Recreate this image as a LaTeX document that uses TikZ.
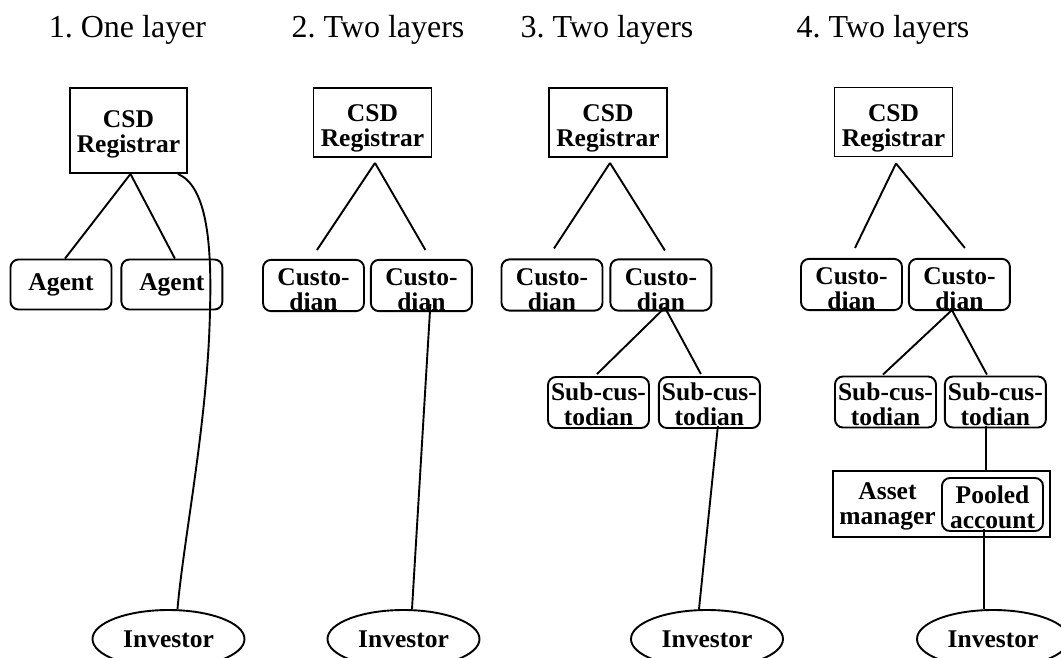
\documentclass[tikz,border=0pt]{standalone}
\usepackage{fontspec}
\setmainfont{Liberation Serif}
\usetikzlibrary{shapes.geometric,positioning}

\newcommand\lowtext[1]{\rule{0pt}{#1}}

\begin{document}
\frenchspacing
\begin{tikzpicture}[x=1pt,y=-1pt,line width=1.9pt,
    font=\fontsize{25.5}{25}\selectfont\bfseries,
    title node/.style={font=\fontsize{32}{32}\selectfont,anchor=base},
    reg node/.style={draw,rectangle,align=center,inner sep=0pt,minimum width=118pt,minimum height=69pt},
    box node/.style={draw,rectangle,rounded corners=8pt,align=center,inner sep=0pt,minimum width=101pt,minimum height=51pt},
    inv node/.style={draw,ellipse,inner sep=0pt,minimum width=152pt,minimum height=58pt}]

  \useasboundingbox (0,0) rectangle (1061,657);
  \clip (0,0) rectangle (1061,657);

  \node[title node] (titleA) at (127.5,37) {1. One layer};
  \node[title node] (titleB) at (378,37) {2. Two layers};
  \node[title node] (titleC) at (607,37) {3. Two layers};
  \node[title node] (titleD) at (883,37) {4. Two layers};

  \node[reg node,minimum width=117pt,minimum height=85pt] (csdA) at (128.5,130.5) {\lowtext{24pt}CSD\\Registrar};
  \node[box node,minimum height=50pt] (agentA1) at (61,284.5) {Agent};
  \node[box node,minimum height=50pt,right=8pt of agentA1] (agentA2) {Agent};
  \node[inv node] (invA) at (168.5,639) {Investor};

  \node[reg node] (csdB) at (372.5,122.5) {\lowtext{29pt}CSD\\Registrar};
  \node[box node] (custB1) at (313.5,285.5) {\lowtext{26pt}Custo-\\dian};
  \node[box node,right=5pt of custB1] (custB2) {\lowtext{26pt}Custo-\\dian};
  \node[inv node] (invB) at (403.5,639) {Investor};

  \node[reg node] (csdC) at (608,122.5) {\lowtext{29pt}CSD\\Registrar};
  \node[box node] (custC1) at (552,285) {\lowtext{26pt}Custo-\\dian};
  \node[box node,right=6pt of custC1] (custC2) {\lowtext{26pt}Custo-\\dian};
  \node[box node] (subC1) at (598.5,402.5) {\lowtext{22pt}Sub-cus-\\todian};
  \node[box node,right=8pt of subC1] (subC2) {\lowtext{22pt}Sub-cus-\\todian};
  \node[inv node] (invC) at (707,639) {Investor};

  \node[reg node] (csdD) at (893.5,122) {\lowtext{29pt}CSD\\Registrar};
  \node[box node] (custD1) at (851.5,284.5) {\lowtext{26pt}Custo-\\dian};
  \node[box node,right=5pt of custD1] (custD2) {\lowtext{26pt}Custo-\\dian};
  \node[box node] (subD1) at (885.5,402) {\lowtext{22pt}Sub-cus-\\todian};
  \node[box node,right=7pt of subD1] (subD2) {\lowtext{22pt}Sub-cus-\\todian};
  \node[draw,rectangle,minimum width=217pt,minimum height=66pt] (assetD) at (941.5,504) {};
  \node[align=center,inner sep=0pt] (managerD) at (887.5,506) {Asset\\manager};
  \node[box node,minimum height=53pt] (pooledD) at (992.5,504.5) {\lowtext{23pt}Pooled\\account};
  \node[inv node] (invD) at (993,639) {Investor};

  \path ([xshift=2pt]csdA.south) edge ([xshift=4pt]agentA1.north)
        ([xshift=2pt]csdA.south) edge ([xshift=3pt]agentA2.north)

        ([xshift=2.5pt,yshift=-5pt]csdB.south) edge ([xshift=3.5pt,yshift=9pt]custB1.north)
        ([xshift=2.5pt,yshift=-5pt]csdB.south) edge ([xshift=4pt,yshift=9pt]custB2.north)
        ([xshift=9pt,yshift=8pt]custB2.south) edge ([xshift=8.5pt]invB.north)

        ([xshift=2pt,yshift=-5pt]csdC.south) edge ([xshift=2pt,yshift=10pt]custC1.north)
        ([xshift=2pt,yshift=-5pt]csdC.south) edge ([xshift=4pt,yshift=8pt]custC2.north)
        ([xshift=4pt,yshift=4pt]custC2.south) edge ([xshift=-1.5pt,yshift=2pt]subC1.north)
        ([xshift=4pt,yshift=4pt]custC2.south) edge ([xshift=-8.5pt,yshift=2pt]subC2.north)
        ([xshift=8.5pt,yshift=3pt]subC2.south) edge ([xshift=-8pt]invC.north)

        ([xshift=2.5pt,yshift=-6pt]csdD.south) edge ([xshift=3.5pt,yshift=10pt]custD1.north)
        ([xshift=2.5pt,yshift=-6pt]csdD.south) edge ([xshift=5.5pt,yshift=10pt]custD2.north)
        ([xshift=-7.5pt,yshift=1pt]custD2.south) edge ([xshift=-2.5pt,yshift=1pt]subD1.north)
        ([xshift=-7.5pt,yshift=1pt]custD2.south) edge ([xshift=-8.5pt,yshift=1pt]subD2.north)
        ([xshift=-9.5pt,yshift=2pt]subD2.south) edge ([xshift=-9.5pt]subD2.south |- assetD.north)
        ([xshift=-8.5pt,yshift=3pt]pooledD.south) edge ([xshift=-9pt]invD.north);

  \draw ([xshift=-10pt]csdA.south east) .. controls +(28,12) and +(2,-70) .. (210,310)
        .. controls +(-2,110) and +(6,-70) .. ([xshift=9pt]invA.north);
\end{tikzpicture}
\end{document}
